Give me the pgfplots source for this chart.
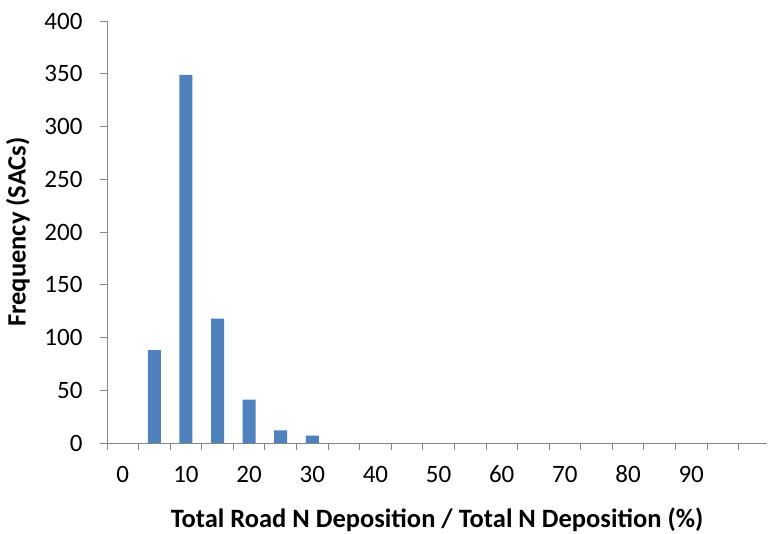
\documentclass[border=0pt]{standalone}
\usepackage{fontspec}
\setmainfont{Carlito}
\usepackage{pgfplots}
\pgfplotsset{compat=1.18}
\definecolor{barblue}{HTML}{4F81BD}
\definecolor{axgray}{HTML}{868686}
\begin{document}
\begin{tikzpicture}[font=\fontsize{25}{30}\selectfont]
\begin{axis}[
  at={(0,0)}, anchor=south west,
  scale only axis,
  width=660pt, height=422pt,
  xmin=-0.5, xmax=20.4,
  ymin=0, ymax=400,
  ytick={0,50,...,400},
  xtick={0,2,...,18},
  xticklabels={0,10,20,30,40,50,60,70,80,90},
  minor xtick={-0.5,0.5,...,19.5},
  major x tick style={draw=none},
  minor x tick style={draw=axgray, line width=0.8pt},
  axis x line=bottom, axis y line=left,
  axis line style={-, draw=axgray, line width=0.8pt},
  y tick style={draw=axgray, line width=0.8pt},
  tick align=outside,
  major tick length=7pt,
  minor tick length=7pt,
  tick label style={font=\fontsize{25}{30}\selectfont},
  label style={font=\fontsize{26.5}{31}\selectfont\bfseries},
  xticklabel style={anchor=north, text height=17pt, text depth=0pt, yshift=-12pt},
  yticklabel style={anchor=east, xshift=-14pt},
  /pgf/number format/assume math mode=true,
  ylabel={Frequency (SACs)},
  xlabel={Total Road N Deposition / Total N Deposition (\%)},
  ylabel style={at={([xshift=-89pt]axis description cs:0,0.5)}, anchor=center},
  xlabel style={at={([yshift=-77pt]axis description cs:0.5,0)}, anchor=center},
  ybar, bar width=13pt,
  clip=false,
]
\addplot[fill=barblue, draw=none] coordinates {(1,88) (2,349) (3,118) (4,41) (5,12) (6,7)};
\end{axis}
\pgfresetboundingbox
\path (-107pt,-91pt) rectangle (661pt,443pt);
\end{tikzpicture}
\end{document}
